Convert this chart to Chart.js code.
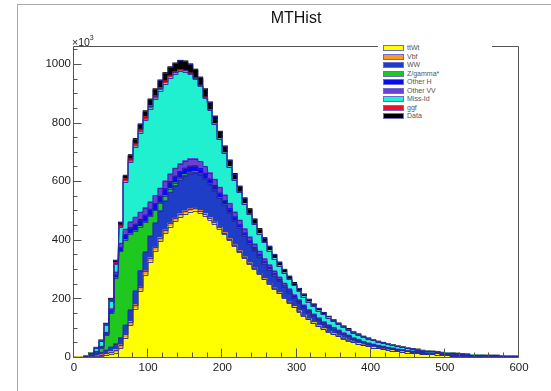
<!DOCTYPE html>
<html>
<head>
<meta charset="utf-8">
<script src="https://cdn.jsdelivr.net/npm/chart.js@4.4.1/dist/chart.umd.min.js"></script>
<style>
  body { margin: 0; background: #fff; font-family: "Liberation Sans", Arial, sans-serif; }
  #wrap { position: relative; width: 551px; height: 391px; overflow: hidden; background: #fff; }
  #pad { position: absolute; left: 17px; top: 4px; width: 700px; height: 600px; border-left: 1px solid #aaa; border-top: 1px solid #aaa; }
  #chart { position: absolute; left: 0; top: 0; }
  #title { position: absolute; left: 236px; width: 120px; top: 9px; text-align: center; font-size: 16px; line-height: 18px; color: #111; }
  #expo { position: absolute; left: 72px; top: 33px; font-size: 10.5px; line-height: 12px; color: #222; }
  #expo sup { font-size: 7px; position: relative; top: -1px; }
  #legend { position: absolute; left: 378px; top: 40px; width: 114px; height: 84px; background: #fff; }
  .row { position: absolute; left: 5px; height: 8px; line-height: 8px; font-size: 7px; color: #555; white-space: nowrap; }
  .box { position: absolute; left: 0; top: 1px; width: 19px; height: 4px; border: 1px solid #6b6bd0; }
  .row span { position: absolute; left: 24px; top: 0; }
</style>
</head>
<body>
<div id="wrap">
  <div id="pad"></div>
  <canvas id="chart" width="551" height="391"></canvas>
  <div id="title">MTHist</div>
  <div id="expo">×10<sup>3</sup></div>
  <div id="legend"></div>
</div>
<script>
// binning of the histogram (GeV)
const binCount = 90;
const xMin = 0;
const xMax = 600;

// tick labels
const xTicks = [0, 100, 200, 300, 400, 500, 600];
const yTicks = [0, 200, 400, 600, 800, 1000];
const yTop = 1061;

// series, bottom of the stack first (values in units of 10^3)
const seriesNames = ["ttWt", "Vbf", "WW", "Z/gamma*", "Other H", "Other VV", "Miss-Id", "ggf", "Data"];
const seriesColors = ["#ffff00", "#ff9a1e", "#1e3ec8", "#1ec81e", "#0a0af0", "#6b3fd6", "#20f0d0", "#f0102a", "#000000"];

const ttWt = [
  0, 0, 0, 0, 1, 3, 6, 10, 15, 30,
  65, 108, 165, 225, 280, 325, 362, 395, 422, 445,
  463, 478, 489, 496, 499, 492, 482, 469, 454, 437,
  419, 399, 378, 358, 338, 318, 300, 282, 265, 249,
  233, 217, 201, 185, 170, 155, 141, 128, 116, 105,
  95, 86, 78, 70, 63, 56, 50, 45, 40, 36,
  32, 29, 26, 23, 21, 19, 17, 15, 13, 12,
  11, 10, 9, 8, 7, 6, 5, 5, 4, 4,
  3, 3, 3, 2, 2, 2, 2, 1, 1, 1
];
const vbf = [
  0, 0, 0, 1, 2, 4, 6, 8, 10, 11,
  12, 13, 13, 13, 13, 13, 12, 12, 11, 11,
  10, 10, 9, 9, 8, 7, 7, 6, 6, 5,
  5, 4, 4, 4, 3, 3, 3, 3, 2, 2,
  2, 2, 2, 2, 2, 2, 1, 1, 1, 1,
  1, 1, 1, 1, 1, 1, 0, 0, 0, 0,
  0, 0, 0, 0, 0, 0, 0, 0, 0, 0,
  0, 0, 0, 0, 0, 0, 0, 0, 0, 0,
  0, 0, 0, 0, 0, 0, 0, 0, 0, 0
];
const ww = [
  0, 1, 2, 4, 6, 9, 12, 16, 20, 25,
  32, 40, 48, 57, 66, 75, 84, 92, 100, 106,
  112, 116, 119, 121, 122, 122, 118, 113, 107, 101,
  95, 89, 83, 77, 71, 65, 60, 55, 50, 46,
  42, 39, 36, 33, 30, 28, 26, 24, 22, 20,
  18, 17, 16, 15, 14, 13, 12, 11, 10, 9,
  9, 8, 8, 7, 7, 6, 6, 5, 5, 5,
  4, 4, 4, 4, 3, 3, 3, 3, 3, 2,
  2, 2, 2, 2, 2, 2, 2, 1, 1, 1
];
const zgamma = [
  0, 0, 1, 2, 6, 14, 50, 115, 225, 294,
  291, 259, 204, 150, 101, 67, 42, 26, 17, 12,
  9, 6, 5, 4, 3, 3, 2, 2, 2, 1,
  1, 1, 1, 1, 1, 1, 1, 1, 1, 1,
  1, 0, 0, 0, 0, 0, 0, 0, 0, 0,
  0, 0, 0, 0, 0, 0, 0, 0, 0, 0,
  0, 0, 0, 0, 0, 0, 0, 0, 0, 0,
  0, 0, 0, 0, 0, 0, 0, 0, 0, 0,
  0, 0, 0, 0, 0, 0, 0, 0, 0, 0
];
const otherH = [
  0, 0, 0, 1, 2, 3, 5, 8, 10, 14,
  18, 21, 23, 24, 24, 24, 24, 24, 24, 24,
  23, 23, 22, 21, 20, 19, 18, 17, 16, 15,
  14, 13, 12, 11, 10, 9, 9, 8, 7, 7,
  6, 6, 5, 5, 4, 4, 4, 3, 3, 3,
  2, 2, 2, 2, 2, 2, 1, 1, 1, 1,
  1, 1, 1, 1, 1, 1, 1, 1, 1, 1,
  0, 0, 0, 0, 0, 0, 0, 0, 0, 0,
  0, 0, 0, 0, 0, 0, 0, 0, 0, 0
];
const otherVV = [
  0, 0, 0, 1, 2, 3, 5, 8, 10, 14,
  18, 21, 24, 25, 26, 26, 27, 27, 27, 27,
  27, 27, 26, 26, 25, 24, 23, 22, 21, 20,
  19, 18, 17, 16, 15, 14, 13, 12, 11, 10,
  10, 9, 8, 8, 7, 7, 6, 6, 5, 5,
  5, 4, 4, 4, 3, 3, 3, 3, 2, 2,
  2, 2, 2, 2, 2, 1, 1, 1, 1, 1,
  1, 1, 1, 1, 1, 1, 1, 1, 1, 1,
  0, 0, 0, 0, 0, 0, 0, 0, 0, 0
];
const missId = [
  0, 0, 1, 5, 13, 19, 26, 26, 26, 54,
  162, 203, 240, 271, 298, 317, 329, 333, 332, 328,
  322, 315, 303, 288, 272, 258, 235, 213, 189, 165,
  143, 125, 109, 95, 85, 77, 67, 60, 55, 48,
  42, 38, 35, 32, 31, 28, 28, 26, 26, 24,
  24, 24, 21, 20, 19, 18, 17, 16, 15, 14,
  13, 12, 11, 10, 9, 9, 8, 7, 7, 6,
  6, 5, 5, 5, 4, 4, 4, 3, 3, 3,
  3, 2, 2, 2, 2, 2, 1, 1, 1, 1
];
const ggf = [
  0, 0, 0, 0, 0, 1, 2, 4, 6, 8,
  10, 11, 12, 12, 12, 11, 11, 10, 9, 8,
  7, 6, 5, 4, 3, 2, 2, 1, 1, 1,
  0, 0, 0, 0, 0, 0, 0, 0, 0, 0,
  0, 0, 0, 0, 0, 0, 0, 0, 0, 0,
  0, 0, 0, 0, 0, 0, 0, 0, 0, 0,
  0, 0, 0, 0, 0, 0, 0, 0, 0, 0,
  0, 0, 0, 0, 0, 0, 0, 0, 0, 0,
  0, 0, 0, 0, 0, 0, 0, 0, 0, 0
];
const dataHist = [
  0, 0, 0, 1, 1, 2, 3, 5, 8, 10,
  12, 14, 16, 18, 20, 22, 24, 26, 28, 29,
  30, 31, 32, 31, 30, 28, 28, 27, 26, 25,
  24, 23, 22, 21, 20, 19, 18, 17, 16, 15,
  14, 13, 12, 11, 10, 10, 9, 9, 8, 8,
  7, 5, 5, 4, 4, 4, 3, 3, 3, 3,
  2, 2, 2, 2, 2, 2, 2, 2, 2, 2,
  1, 1, 1, 1, 1, 1, 1, 1, 1, 1,
  0, 0, 0, 0, 0, 0, 0, 0, 0, 0
];
const seriesValues = [ttWt, vbf, ww, zgamma, otherH, otherVV, missId, ggf, dataHist];

const binWidth = (xMax - xMin) / binCount;
const binCenters = Array.from({ length: binCount }, (_, i) => xMin + (i + 0.5) * binWidth);
const fontFamily = '"Liberation Sans", Arial, sans-serif';
const outline = "rgba(40, 40, 160, 0.85)";

// step outline of every stacked histogram, like ROOT's line colour
const stepOutline = {
  id: "stepOutline",
  afterDatasetsDraw(chart) {
    const { ctx, chartArea } = chart;
    ctx.save();
    ctx.beginPath();
    ctx.rect(chartArea.left, chartArea.top, chartArea.right - chartArea.left, chartArea.bottom - chartArea.top);
    ctx.clip();
    ctx.strokeStyle = outline;
    ctx.lineWidth = 1;
    chart.data.datasets.forEach((ds, k) => {
      const meta = chart.getDatasetMeta(k);
      ctx.beginPath();
      meta.data.forEach((bar, i) => {
        const p = bar.getProps(["x", "y", "width"], true);
        const x0 = Math.round(p.x - p.width / 2);
        const x1 = Math.round(p.x + p.width / 2);
        const y = Math.round(p.y) + 0.5;
        if (i === 0) ctx.moveTo(x0, y);
        else ctx.lineTo(x0, y);
        ctx.lineTo(x1, y);
      });
      ctx.stroke();
    });
    ctx.restore();
  }
};

// ROOT-like frame with inward ticks
const rootFrame = {
  id: "rootFrame",
  afterDraw(chart) {
    const { ctx, chartArea, scales } = chart;
    const left = Math.round(chartArea.left) - 0.5;
    const right = Math.round(chartArea.right) - 0.5;
    const top = Math.round(chartArea.top) + 0.5;
    const bottom = Math.round(chartArea.bottom) + 0.5;
    ctx.save();
    ctx.strokeStyle = "#555";
    ctx.lineWidth = 1;
    ctx.beginPath();
    ctx.moveTo(left, top);
    ctx.lineTo(right, top);
    ctx.lineTo(right, bottom);
    ctx.lineTo(left, bottom);
    ctx.closePath();
    const yStep = (yTicks[1] - yTicks[0]) / 4;
    for (let v = 0; v <= yTop; v += yStep) {
      const py = Math.round(scales.y.getPixelForValue(v)) + 0.5;
      const len = yTicks.includes(v) ? 8 : 4;
      ctx.moveTo(left, py);
      ctx.lineTo(left + len, py);
    }
    const xStep = (xTicks[1] - xTicks[0]) / 5;
    for (let v = xMin; v <= xMax; v += xStep) {
      const px = Math.round(scales.x.getPixelForValue(v)) - 0.5;
      const len = xTicks.includes(v) ? 9 : 5;
      ctx.moveTo(px, bottom);
      ctx.lineTo(px, bottom - len);
    }
    ctx.stroke();
    ctx.restore();
  }
};

function buildLegend() {
  const legend = document.getElementById("legend");
  seriesNames.forEach((name, k) => {
    const row = document.createElement("div");
    row.className = "row";
    row.style.top = (4 + k * 8.5) + "px";
    const box = document.createElement("div");
    box.className = "box";
    box.style.background = seriesColors[k];
    const label = document.createElement("span");
    label.textContent = name;
    row.appendChild(box);
    row.appendChild(label);
    legend.appendChild(row);
  });
}

function initializeChart() {
  const ctx = document.getElementById("chart").getContext("2d");
  const datasets = seriesNames.map((name, k) => ({
    label: name,
    data: seriesValues[k].map((v, i) => ({ x: binCenters[i], y: v })),
    backgroundColor: seriesColors[k],
    borderWidth: 0,
    inflateAmount: 0.5,
    barPercentage: 1,
    categoryPercentage: 1
  }));

  new Chart(ctx, {
    type: "bar",
    data: { datasets: datasets },
    options: {
      responsive: false,
      animation: false,
      devicePixelRatio: 1,
      layout: { padding: { top: 46, right: 32, left: 0, bottom: 0 } },
      plugins: { legend: { display: false }, tooltip: { enabled: false } },
      scales: {
        x: {
          type: "linear",
          min: xMin,
          max: xMax,
          offset: false,
          stacked: true,
          grid: { display: false, drawTicks: false },
          border: { display: false },
          ticks: { autoSkip: false, maxRotation: 0, padding: 4, color: "#222", font: { family: fontFamily, size: 11.5 }, callback: v => String(v) },
          afterBuildTicks: s => { s.ticks = xTicks.map(v => ({ value: v })); },
          afterFit: s => { s.height = 34; }
        },
        y: {
          min: 0,
          max: yTop,
          stacked: true,
          grid: { display: false, drawTicks: false },
          border: { display: false },
          ticks: { padding: 3, color: "#222", font: { family: fontFamily, size: 11.5 }, callback: v => String(v) },
          afterBuildTicks: s => { s.ticks = yTicks.map(v => ({ value: v })); },
          afterFit: s => { s.width = 74; }
        }
      }
    },
    plugins: [stepOutline, rootFrame]
  });
}

buildLegend();
initializeChart();
</script>
</body>
</html>
